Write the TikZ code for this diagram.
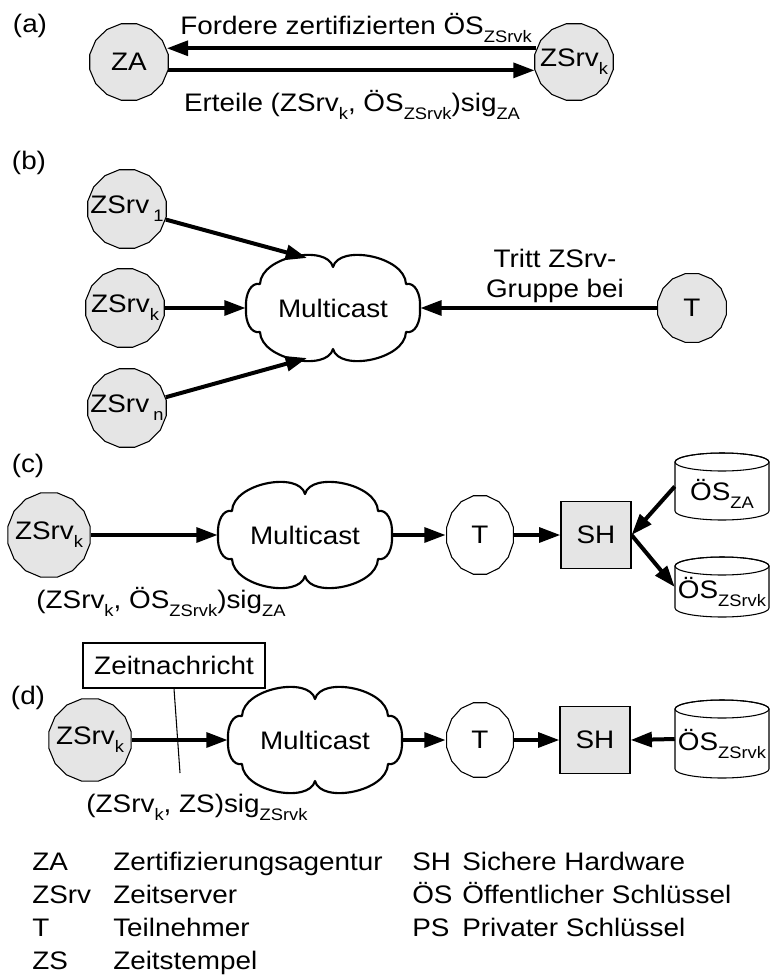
\documentclass[tikz,border=0pt]{standalone}
\usepackage{fontspec}
\setmainfont{Liberation Sans}[FakeStretch=1.1]
\usetikzlibrary{shapes.geometric, arrows.meta}

\definecolor{nodegray}{gray}{0.9}

% lowered, smaller index text
\newcommand\sub[1]{\raisebox{-6pt}{\fontsize{12.5}{14}\selectfont #1}}

% 16-sided station: name, cx, cy, rx, ry, fill, text
\newcommand\station[7]{%
  \filldraw[thinline, fill=#6] plot[samples=17, domain=11.25:371.25, variable=\t]
     ({#2+#4*cos(\t)},{#3+#5*sin(\t)}) -- cycle;
  \node[ellipse, inner sep=0pt, minimum width={#4*1.5pt}, minimum height={#5*1.5pt}] (#1) at (#2,#3) {};
  \node (#1-text) at (#2,#3) {#7};
}

% multicast cloud: name, cx, cy, text
\newcommand\cloudnode[4]{%
  \begin{scope}[shift={(#2,#3)}]
    \draw[line width=1.6pt, fill=white, line join=round]
      (-87,0) .. controls (-88,-14) and (-82,-26) .. (-73,-24)
      .. controls (-72,-52) and (-6,-64) .. (0,-41)
      .. controls (6,-64) and (72,-52) .. (73,-24)
      .. controls (82,-26) and (88,-14) .. (87,0)
      .. controls (88,14) and (82,26) .. (73,24)
      .. controls (72,52) and (6,64) .. (0,41)
      .. controls (-6,64) and (-72,52) .. (-73,24)
      .. controls (-82,26) and (-88,14) .. (-87,0) -- cycle;
  \end{scope}
  \node[ellipse, inner sep=0pt, minimum width=130.5pt, minimum height=78pt] (#1) at (#2,#3) {#4};
}

% key store drum: name, cx, ytop, ybottom, text, text y
\newcommand\drum[6]{%
  \filldraw[thinline, fill=white] ({#2-47},{#3+9}) -- ({#2-47},{#4-9})
     arc[start angle=180, end angle=0, x radius=47, y radius=9]
     -- ({#2+47},{#3+9})
     arc[start angle=0, end angle=-180, x radius=47, y radius=9] -- cycle;
  \draw[thinline] (#2,{#3+9}) ellipse[x radius=47, y radius=9];
  \node[rectangle, inner sep=0pt, minimum width=70.5pt, minimum height={(#4-#3)*0.75pt}] (#1) at (#2,{(#3+#4)/2}) {};
  \node (#1-text) at (#2,#6) {#5};
}

\begin{document}
\begin{tikzpicture}[x=0.75pt, y=-0.75pt,
  font=\fontsize{19}{23}\selectfont,
  thinline/.style={line width=0.8pt},
  arr/.style={line width=3pt, -{Triangle[length=16pt,width=11pt]}},
  shbox/.style={draw, thinline, fill=nodegray, minimum width=52.5pt, minimum height=50pt, inner sep=0pt},
  panel/.style={anchor=center},
  key/.style={anchor=base west, inner sep=0pt}]

\useasboundingbox (0,0) rectangle (771,978);

% ---------- (a) certification ----------
\node[panel] (la) at (30,26) {(a)};
\station{za}{129}{62}{40}{39}{nodegray}{ZA}
\station{zka}{574}{62}{40}{39}{nodegray}{ZSrv\sub{k}}
\draw[arr] (zka.160) -- (za.20);
\draw[arr] (za.-12) -- (zka.192);
\node[anchor=base] (reqa) at (356,34) {Fordere zertifizierten ÖS\sub{ZSrvk}};
\node[anchor=base] (grta) at (352,111) {Erteile (ZSrv\sub{k}, ÖS\sub{ZSrvk})sig\sub{ZA}};

% ---------- (b) joining the group ----------
\node[panel] (lb) at (29,163) {(b)};
\station{z1}{127}{209}{40}{40}{nodegray}{ZSrv\,\sub{1}}
\station{zkb}{125}{308}{40}{40}{nodegray}{ZSrv\sub{k}}
\station{zn}{127}{408}{40}{40}{nodegray}{ZSrv\,\sub{n}}
\cloudnode{mcb}{333}{308}{Multicast}
\station{tb}{692}{308}{35}{35}{nodegray}{T}
\coordinate (mcb-nw) at (307,258);
\coordinate (mcb-sw) at (307,358);
\draw[arr] (z1) -- (mcb-nw);
\draw[arr] (zkb) -- (mcb);
\draw[arr] (zn) -- (mcb-sw);
\draw[arr] (tb) -- (mcb);
\node[anchor=base] (joina) at (555,267) {Tritt ZSrv-};
\node[anchor=base] (joinb) at (555,297) {Gruppe bei};

% ---------- (c) distributing the certificate ----------
\node[panel] (lc) at (28,466) {(c)};
\station{zkc}{49}{535}{42}{43}{nodegray}{ZSrv\sub{k}}
\cloudnode{mcc}{305}{535}{Multicast}
\station{tc}{480}{535}{34}{40}{white}{T}
\node[shbox] (shc) at (596,535) {SH};
\drum{pza}{722}{453}{520}{ÖS\sub{ZA}}{494}
\drum{pzk}{722}{557}{617}{ÖS\sub{ZSrvk}}{592}
\draw[arr] (zkc) -- (mcc);
\draw[arr] (mcc) -- (tc);
\draw[arr] (tc) -- (shc);
\draw[arr] (pza.west) -- (shc.east);
\draw[arr] (shc.east) -- (pzk.west);
\node[anchor=base] (sigc) at (161,608) {(ZSrv\sub{k}, ÖS\sub{ZSrvk})sig\sub{ZA}};

% ---------- (d) time message ----------
\node[draw, thinline, minimum width=136.5pt, minimum height=33.75pt] (msg) at (174,665.5) {Zeitnachricht};
\node[panel] (ld) at (28,698) {(d)};
\station{zkd}{90}{740}{42}{42}{nodegray}{ZSrv\sub{k}}
\cloudnode{mcd}{315}{740}{Multicast}
\station{td}{480}{740}{34}{38}{white}{T}
\node[shbox] (shd) at (595,740) {SH};
\drum{pzd}{722}{700}{778}{ÖS\sub{ZSrvk}}{744}
\coordinate (msgfoot) at (180,773);
\draw[arr] (zkd) -- (mcd);
\draw[arr] (mcd) -- (td);
\draw[arr] (td) -- (shd);
\draw[arr] (pzd.west) -- (shd.east);
\draw[thinline] (msg.south) -- (msgfoot);
\node[anchor=base] (sigd) at (197,812) {(ZSrv\sub{k}, ZS)sig\sub{ZSrvk}};

% ---------- abbreviations ----------
\node[key] (k1a) at (32,870) {ZA};
\node[key] (k1b) at (113,870) {Zertifizierungsagentur};
\node[key] (k2a) at (32,903) {ZSrv};
\node[key] (k2b) at (113,903) {Zeitserver};
\node[key] (k3a) at (32,936) {T};
\node[key] (k3b) at (113,936) {Teilnehmer};
\node[key] (k4a) at (32,969) {ZS};
\node[key] (k4b) at (113,969) {Zeitstempel};
\node[key] (k5a) at (412,870) {SH};
\node[key] (k5b) at (462,870) {Sichere Hardware};
\node[key] (k6a) at (412,903) {ÖS};
\node[key] (k6b) at (462,903) {Öffentlicher Schlüssel};
\node[key] (k7a) at (412,936) {PS};
\node[key] (k7b) at (462,936) {Privater Schlüssel};
\end{tikzpicture}
\end{document}
